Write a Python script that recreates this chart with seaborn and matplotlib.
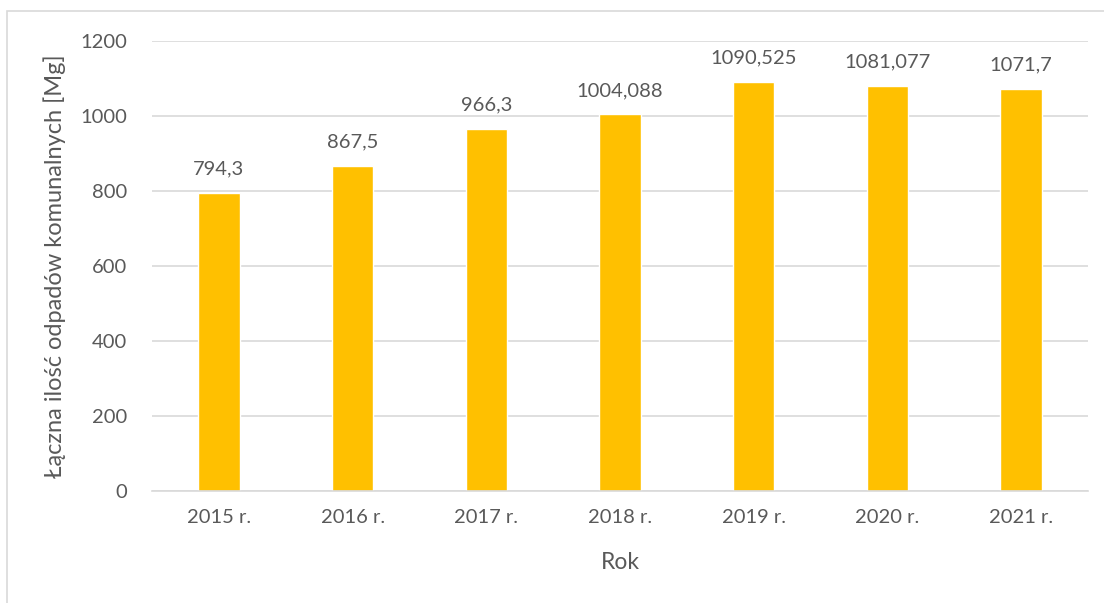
import matplotlib
matplotlib.use("Agg")
import matplotlib.pyplot as plt
import seaborn as sns
import pandas as pd
from matplotlib.patches import Rectangle

years = ["2015 r.", "2016 r.", "2017 r.", "2018 r.", "2019 r.", "2020 r.", "2021 r."]
values = [794.3, 867.5, 966.3, 1004.088, 1090.525, 1081.077, 1071.7]
labels = ["794,3", "867,5", "966,3", "1004,088", "1090,525", "1081,077", "1071,7"]

sns.set_style("white")
plt.rcParams['font.family'] = ['Lato', 'DejaVu Sans']
txt = "#595959"

fig = plt.figure(figsize=(11.04, 6.03), dpi=100)
fig.patches.append(Rectangle((7/1104, -0.01), 1.1, 1 - 11/603 + 0.01, transform=fig.transFigure,
                             fill=False, edgecolor="#D9D9D9", linewidth=1.2))
ax = fig.add_axes([152/1104, 1 - 491/603, (1088 - 152)/1104, (491 - 41)/603])

df = pd.DataFrame({"Rok": years, "val": values})
sns.barplot(data=df, x="Rok", y="val", color="#FFC000", saturation=1, width=0.31, ax=ax)

ax.set_ylim(0, 1200)
ax.set_yticks(range(0, 1201, 200))
ax.set_xlim(-0.5, len(years) - 0.5)
ax.yaxis.grid(True, color="#D9D9D9", linewidth=1.2)
ax.set_axisbelow(True)
for s in ["top", "right", "left"]:
    ax.spines[s].set_visible(False)
ax.spines["bottom"].set_color("#D9D9D9")
ax.spines["bottom"].set_linewidth(1.2)
ax.tick_params(axis="both", length=0, labelsize=14.5, colors=txt)
ax.tick_params(axis="x", pad=13)
ax.tick_params(axis="y", pad=18)
ax.set_xlabel("Rok", fontsize=16.5, color=txt, labelpad=19)
ax.set_ylabel("Łączna ilość odpadów komunalnych [Mg]", fontsize=17, color=txt, labelpad=10)

for i, (v, l) in enumerate(zip(values, labels)):
    ax.annotate(l, (i, v), xytext=(0, 11), textcoords="offset points", ha="center",
                va="bottom", fontsize=14.5, color=txt)

fig.savefig("out.png", dpi=100)
